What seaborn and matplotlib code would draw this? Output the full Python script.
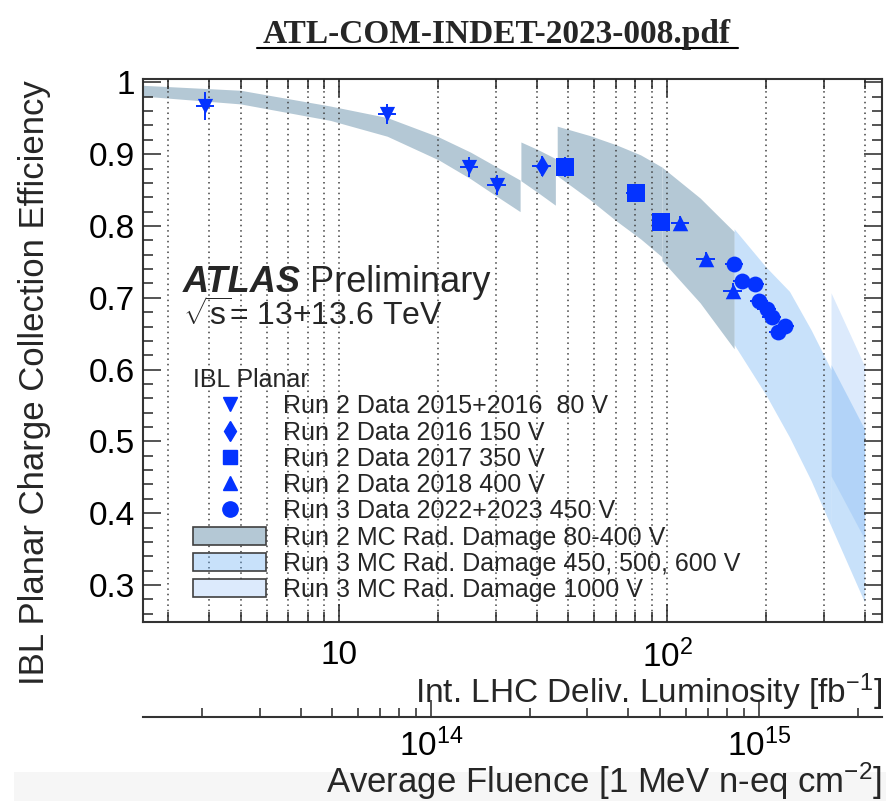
"""
IBL planar charge collection efficiency vs integrated luminosity / fluence
"""

import matplotlib

matplotlib.use("Agg")

import matplotlib.pyplot as plt
import numpy as np
import pandas as pd
import seaborn as sns
from matplotlib.lines import Line2D
from matplotlib.patches import Patch, Rectangle
from matplotlib.ticker import (
    FixedLocator,
    FuncFormatter,
    LogLocator,
    MultipleLocator,
    NullFormatter,
)

# ---------------------------------------------------------------- data
# Run 2 data 2015+2016, 80 V
r2_80_lumi = [3.9, 14.0, 24.9, 30.3]
r2_80_lumi_err = [0.25, 0.9, 1.6, 2.0]
r2_80_cce = [0.967, 0.956, 0.882, 0.857]
r2_80_cce_err = [0.020, 0.014, 0.014, 0.014]

# Run 2 data 2016, 150 V
r2_150_lumi = [41.5]
r2_150_lumi_err = [2.7]
r2_150_cce = [0.883]
r2_150_cce_err = [0.014]

# Run 2 data 2017, 350 V
r2_350_lumi = [48.9, 80.3, 95.9]
r2_350_lumi_err = [3.2, 5.2, 6.2]
r2_350_cce = [0.882, 0.846, 0.806]
r2_350_cce_err = [0.014, 0.010, 0.010]

# Run 2 data 2018, 400 V
r2_400_lumi = [109.6, 131.2, 158.6]
r2_400_lumi_err = [7.1, 8.5, 10.3]
r2_400_cce = [0.804, 0.754, 0.710]
r2_400_cce_err = [0.010, 0.010, 0.010]

# Run 3 data 2022+2023, 450 V
r3_450_lumi = [160.0, 169.6, 185.4, 191.2, 201.4, 208.5, 218.3, 229.0]
r3_450_lumi_err = [10.4, 11.0, 12.0, 12.4, 13.1, 13.5, 14.2, 14.9]
r3_450_cce = [0.747, 0.723, 0.719, 0.696, 0.684, 0.673, 0.653, 0.661]
r3_450_cce_err = [0.008, 0.008, 0.008, 0.008, 0.008, 0.008, 0.008, 0.008]

# MC radiation damage bands (lumi, lower edge, upper edge)
mc_r2_80_lumi = [2.5, 5.0, 9.4, 14.0, 20.1, 25.1, 30.3, 35.6]
mc_r2_80_lo = [0.981, 0.970, 0.947, 0.925, 0.892, 0.866, 0.841, 0.820]
mc_r2_80_hi = [0.996, 0.989, 0.967, 0.951, 0.924, 0.903, 0.882, 0.864]

mc_r2_150_lumi = [35.8, 40.5, 45.6]
mc_r2_150_lo = [0.863, 0.846, 0.829]
mc_r2_150_hi = [0.917, 0.906, 0.894]

mc_r2_350_lumi = [46.2, 58.0, 70.0, 83.0, 96.4]
mc_r2_350_lo = [0.870, 0.837, 0.807, 0.782, 0.757]
mc_r2_350_hi = [0.939, 0.926, 0.913, 0.899, 0.882]

mc_r2_400_lumi = [96.4, 126.0, 160.0]
mc_r2_400_lo = [0.752, 0.693, 0.629]
mc_r2_400_hi = [0.882, 0.839, 0.792]

mc_r3_450_lumi = [160.0, 200.0, 236.0]
mc_r3_450_lo = [0.635, 0.565, 0.506]
mc_r3_450_hi = [0.796, 0.743, 0.709]

mc_r3_500_lumi = [236.0, 275.0, 316.0]
mc_r3_500_lo = [0.506, 0.445, 0.382]
mc_r3_500_hi = [0.709, 0.655, 0.600]

mc_r3_600_lumi = [316.0, 400.0]
mc_r3_600_lo = [0.382, 0.276]
mc_r3_600_hi = [0.607, 0.517]

mc_r3_1000_lumi = [316.0, 400.0]
mc_r3_1000_lo = [0.452, 0.364]
mc_r3_1000_hi = [0.707, 0.605]

# 1 fb^-1 of delivered luminosity in 1 MeV n-eq cm^-2
FLUENCE_PER_FB = 5.25e12
fluence_major_ticks = [1e14, 1e15]

legend_labels = [
    "Run 2 Data 2015+2016  80 V",
    "Run 2 Data 2016 150 V",
    "Run 2 Data 2017 350 V",
    "Run 2 Data 2018 400 V",
    "Run 3 Data 2022+2023 450 V",
    "Run 2 MC Rad. Damage 80-400 V",
    "Run 3 MC Rad. Damage 450, 500, 600 V",
    "Run 3 MC Rad. Damage 1000 V",
]

# ---------------------------------------------------------------- style
BLUE = "#0433ff"
RUN2_BAND = "#b4c8d5"
RUN3_BAND = (106 / 255, 174 / 255, 242 / 255, 0.37)
RUN3_1000_BAND = "#dceafc"

sns.set_theme(style="ticks")
plt.rcParams["font.family"] = ["Liberation Sans", "DejaVu Sans"]
plt.rcParams["mathtext.fontset"] = "custom"
plt.rcParams["mathtext.rm"] = "Liberation Sans"
plt.rcParams["mathtext.it"] = "Liberation Sans:italic"
plt.rcParams["mathtext.bf"] = "Liberation Sans:bold"
plt.rcParams["mathtext.sf"] = "Liberation Sans"

fig = plt.figure(figsize=(8.86, 8.01), dpi=100)
fig.patches.append(
    Rectangle((14 / 886, 0), 1, 29 / 801, transform=fig.transFigure,
              facecolor="#f6f6f6", edgecolor="none", zorder=-1)
)
ax = fig.add_axes([143 / 886, 1 - 622 / 801, 739 / 886, 543 / 801])
ax.set_xscale("log")

# MC bands
ax.fill_between(mc_r2_80_lumi, mc_r2_80_lo, mc_r2_80_hi, color=RUN2_BAND, lw=0, zorder=1)
ax.fill_between(mc_r2_150_lumi, mc_r2_150_lo, mc_r2_150_hi, color=RUN2_BAND, lw=0, zorder=1)
ax.fill_between(mc_r2_350_lumi, mc_r2_350_lo, mc_r2_350_hi, color=RUN2_BAND, lw=0, zorder=1)
ax.fill_between(mc_r2_400_lumi, mc_r2_400_lo, mc_r2_400_hi, color=RUN2_BAND, lw=0, zorder=1)
ax.fill_between(mc_r3_1000_lumi, mc_r3_1000_lo, mc_r3_1000_hi, color=RUN3_1000_BAND, lw=0, zorder=1)
ax.fill_between(mc_r3_450_lumi, mc_r3_450_lo, mc_r3_450_hi, color=RUN3_BAND, lw=0, zorder=1.1)
ax.fill_between(mc_r3_500_lumi, mc_r3_500_lo, mc_r3_500_hi, color=RUN3_BAND, lw=0, zorder=1.1)
ax.fill_between(mc_r3_600_lumi, mc_r3_600_lo, mc_r3_600_hi, color=RUN3_BAND, lw=0, zorder=1.1)

# data points
datasets = [
    ("r2_80", r2_80_lumi, r2_80_lumi_err, r2_80_cce, r2_80_cce_err, "v", 120),
    ("r2_150", r2_150_lumi, r2_150_lumi_err, r2_150_cce, r2_150_cce_err, "d", 120),
    ("r2_350", r2_350_lumi, r2_350_lumi_err, r2_350_cce, r2_350_cce_err, "s", 150),
    ("r2_400", r2_400_lumi, r2_400_lumi_err, r2_400_cce, r2_400_cce_err, "^", 125),
    ("r3_450", r3_450_lumi, r3_450_lumi_err, r3_450_cce, r3_450_cce_err, "o", 130),
]
for name, lumi, lumi_err, cce, cce_err, marker, size in datasets:
    ax.errorbar(lumi, cce, xerr=lumi_err, yerr=cce_err, fmt="none",
                ecolor=BLUE, elinewidth=1.4, capsize=0, zorder=3)
    df = pd.DataFrame({"lumi": lumi, "cce": cce})
    sns.scatterplot(data=df, x="lumi", y="cce", marker=marker, s=size,
                    color=BLUE, edgecolor=BLUE, linewidth=0, legend=False,
                    ax=ax, zorder=4)

# axes
ax.set_xlim(2.52, 452)
ax.set_ylim(0.2485, 1.0047)
ax.set_xlabel("")
ax.set_ylabel("")
ax.xaxis.set_major_locator(LogLocator(base=10))
ax.xaxis.set_minor_locator(LogLocator(base=10, subs=np.arange(2, 10)))
ax.xaxis.set_major_formatter(
    FuncFormatter(lambda v, _: "10" if round(np.log10(v)) == 1 else r"$10^{%d}$" % round(np.log10(v)))
)
ax.xaxis.set_minor_formatter(NullFormatter())
ax.yaxis.set_major_locator(MultipleLocator(0.1))
ax.yaxis.set_minor_locator(MultipleLocator(0.02))
ax.yaxis.set_major_formatter(FuncFormatter(lambda v, _: f"{v:g}"))

ax.set_axisbelow(False)
ax.grid(True, which="both", axis="x", linestyle=(0, (1, 2.5)), color="0.25", linewidth=1.1)
ax.grid(False, axis="y")
ax.tick_params(which="both", direction="in", top=True, right=True,
               color="0.15", width=1.1, labelsize=24, labelcolor="black")
ax.tick_params(which="major", length=13)
ax.tick_params(which="minor", length=7)
ax.tick_params(axis="x", which="major", pad=13)
ax.tick_params(axis="y", which="major", pad=6)
for spine in ax.spines.values():
    spine.set_visible(True)
    spine.set_linewidth(1.5)
    spine.set_color("0.2")

# fluence axis
secax = ax.secondary_xaxis(
    -0.175, functions=(lambda L: L * FLUENCE_PER_FB, lambda F: F / FLUENCE_PER_FB)
)
secax.xaxis.set_major_locator(FixedLocator(fluence_major_ticks))
secax.xaxis.set_minor_locator(LogLocator(base=10, subs=np.arange(2, 10)))
secax.xaxis.set_major_formatter(
    FuncFormatter(lambda v, _: r"$10^{%d}$" % round(np.log10(v)))
)
secax.xaxis.set_minor_formatter(NullFormatter())
secax.tick_params(which="both", direction="in", color="0.15", width=1.1,
                  labelsize=24, labelcolor="black")
secax.tick_params(which="major", length=12, pad=8)
secax.tick_params(which="minor", length=6.5)
secax.spines["bottom"].set_linewidth(1.5)
secax.spines["bottom"].set_color("0.2")

# axis titles
ax.text(1.0, -(692 - 622) / 543, r"Int. LHC Deliv. Luminosity [fb$^{-1}$]",
        transform=ax.transAxes, ha="right", va="center", fontsize=24)
fig.text(882 / 886, 1 - 781 / 801, r"Average Fluence [1 MeV n-eq cm$^{-2}$]",
         ha="right", va="center", fontsize=25, zorder=5)
fig.text(35 / 886, 1 - 80 / 801, "IBL Planar Charge Collection Efficiency",
         rotation=90, ha="center", va="top", fontsize=25)

# ATLAS label
ax.text((183 - 143) / 739, (622 - 282) / 543, "ATLAS", transform=ax.transAxes,
        fontsize=26, fontweight="bold", fontstyle="italic", va="center")
ax.text((310 - 143) / 739, (622 - 282) / 543, "Preliminary", transform=ax.transAxes,
        fontsize=26, va="center")
ax.text((183 - 143) / 739, (622 - 316) / 543, r"$\sqrt{\mathrm{s}}$= 13+13.6 TeV",
        transform=ax.transAxes, fontsize=23, va="center")

# legend
handles = [
    Line2D([], [], marker="v", ls="none", color=BLUE, markersize=10.5),
    Line2D([], [], marker="d", ls="none", color=BLUE, markersize=10.5),
    Line2D([], [], marker="s", ls="none", color=BLUE, markersize=10.5),
    Line2D([], [], marker="^", ls="none", color=BLUE, markersize=10.5),
    Line2D([], [], marker="o", ls="none", color=BLUE, markersize=11),
    Patch(facecolor=RUN2_BAND, edgecolor="0.25", linewidth=1.2),
    Patch(facecolor=RUN3_BAND, edgecolor="0.25", linewidth=1.2),
    Patch(facecolor=RUN3_1000_BAND, edgecolor="0.25", linewidth=1.2),
]
leg = ax.legend(handles, legend_labels, title="IBL Planar", loc="upper left",
                bbox_to_anchor=((193 - 143) / 739, (622 - 368) / 543),
                frameon=False, fontsize=18, title_fontsize=18,
                handlelength=2.92, handleheight=0.75, handletextpad=0.67,
                labelspacing=0.09, borderpad=0, borderaxespad=0,
                alignment="left")
leg.set_zorder(5)

# document title
fig.text(497 / 886, 1 - 43 / 801, "ATL-COM-INDET-2023-008.pdf",
         family=["Liberation Serif", "DejaVu Serif"], fontweight="bold",
         fontsize=24, ha="center", va="baseline")
fig.add_artist(Line2D([257 / 886, 738 / 886], [1 - 48 / 801, 1 - 48 / 801],
                      transform=fig.transFigure, color="black", linewidth=1.5))

fig.savefig("out.png", dpi=100)
